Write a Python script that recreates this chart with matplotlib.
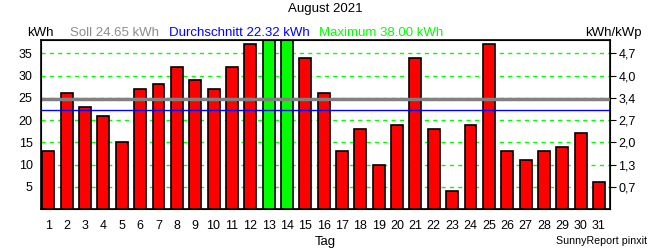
import numpy as np
import matplotlib.pyplot as plt

plt.rcParams['font.family'] = ['Liberation Sans', 'DejaVu Sans']

days = list(range(1, 32))
energy_kwh = [13, 26, 23, 21, 15, 27, 28, 32, 29, 27, 32, 37, 38, 38, 34, 26,
              13, 18, 10, 19, 34, 18, 4, 19, 37, 13, 11, 13, 14, 17, 6]
max_kwh = 38.00
soll_kwh = 24.65
avg_kwh = 22.32
left_ticks = [5, 10, 15, 20, 25, 30, 35]
right_labels = ["0,7", "1,3", "2,0", "2,7", "3,4", "4,0", "4,7"]

fs = 9.5
tfs = 9
fig = plt.figure(figsize=(6.5, 2.5), dpi=100)
ax = fig.add_axes([41 / 650, 1 - 209 / 250, (610 - 41) / 650, (209 - 40) / 250])

colors = ['#00ff00' if v >= max_kwh else '#ff0000' for v in energy_kwh]
ax.bar(days, energy_kwh, width=0.65, color=colors, edgecolor='black', linewidth=1.2, zorder=3)

for t in left_ticks:
    ax.axhline(t, color='#00ff00', linestyle=(0, (3, 3)), linewidth=1, zorder=1)
ax.axhline(soll_kwh, color='#808080', linewidth=2.5, zorder=4)
ax.axhline(avg_kwh, color='#0000ff', linewidth=1, zorder=4)

ax.set_xlim(0.6, 31.6)
ax.set_ylim(0, 38)
ax.set_xticks(days)
ax.set_xticklabels([str(d) for d in days])
ax.set_yticks(left_ticks)
ax.tick_params(axis='x', length=0, pad=8, labelsize=tfs)
ax.tick_params(axis='y', length=0, pad=6, labelsize=tfs)
for s in ax.spines.values():
    s.set_linewidth(1.2)

ax2 = ax.twinx()
ax2.set_ylim(0, 38)
ax2.set_yticks(left_ticks)
ax2.set_yticklabels(right_labels)
ax2.tick_params(axis='y', length=4, pad=2, labelsize=tfs)

fig.text(325 / 650, 1 - 9 / 250, "August 2021", ha='center', va='center', fontsize=fs)
fig.text(27 / 650, 1 - 33 / 250, "kWh", ha='left', va='center', fontsize=fs)
fig.text(70 / 650, 1 - 33 / 250, f"Soll {soll_kwh:.2f} kWh", ha='left', va='center', fontsize=fs, color='#8c8c8c')
fig.text(169 / 650, 1 - 33 / 250, f"Durchschnitt {avg_kwh:.2f} kWh", ha='left', va='center', fontsize=fs, color='#0000ff')
fig.text(319 / 650, 1 - 33 / 250, f"Maximum {max_kwh:.2f} kWh", ha='left', va='center', fontsize=fs, color='#00ff00')
fig.text(642 / 650, 1 - 33 / 250, "kWh/kWp", ha='right', va='center', fontsize=fs)
fig.text(325 / 650, 1 - 242 / 250, "Tag", ha='center', va='center', fontsize=fs)
fig.text(647 / 650, 1 - 241 / 250, "SunnyReport pinxit", ha='right', va='center', fontsize=7.7)

fig.savefig("out.png", dpi=100)
